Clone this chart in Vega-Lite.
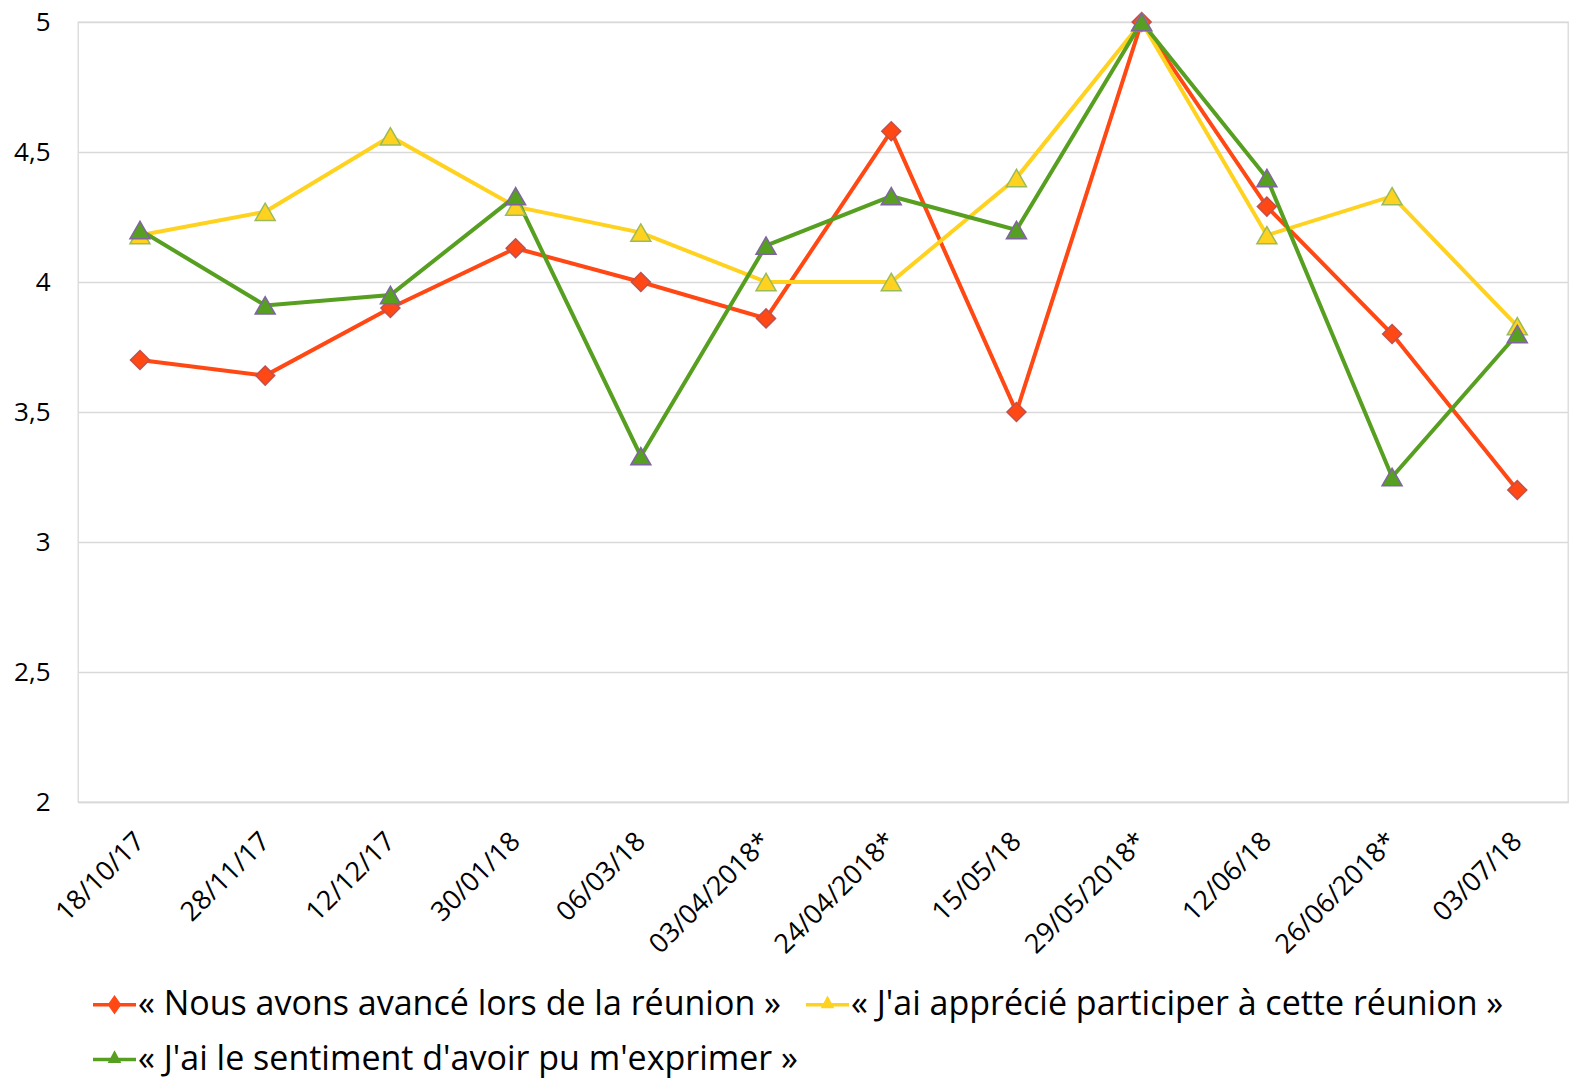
{
  "$schema": "https://vega.github.io/schema/vega-lite/v6.json",
  "width": 1490,
  "height": 780,
  "autosize": {"type": "none"},
  "padding": {"left": 78, "top": 22, "right": 17, "bottom": 277},
  "background": "white",
  "config": {
    "font": "Open Sans",
    "view": {"stroke": "#d9d9d9", "strokeWidth": 1.3},
    "axis": {"labelFont": "Open Sans", "labelColor": "#000000", "labelFontSize": 26, "domain": false, "ticks": false, "gridColor": "#d9d9d9", "gridWidth": 1.3, "title": null}
  },
  "data": {
    "values": [
      {"date": "18/10/17", "series": "« Nous avons avancé lors de la réunion »", "value": 3.7},
      {"date": "28/11/17", "series": "« Nous avons avancé lors de la réunion »", "value": 3.64},
      {"date": "12/12/17", "series": "« Nous avons avancé lors de la réunion »", "value": 3.9},
      {"date": "30/01/18", "series": "« Nous avons avancé lors de la réunion »", "value": 4.13},
      {"date": "06/03/18", "series": "« Nous avons avancé lors de la réunion »", "value": 4.0},
      {"date": "03/04/2018*", "series": "« Nous avons avancé lors de la réunion »", "value": 3.86},
      {"date": "24/04/2018*", "series": "« Nous avons avancé lors de la réunion »", "value": 4.58},
      {"date": "15/05/18", "series": "« Nous avons avancé lors de la réunion »", "value": 3.5},
      {"date": "29/05/2018*", "series": "« Nous avons avancé lors de la réunion »", "value": 5.0},
      {"date": "12/06/18", "series": "« Nous avons avancé lors de la réunion »", "value": 4.29},
      {"date": "26/06/2018*", "series": "« Nous avons avancé lors de la réunion »", "value": 3.8},
      {"date": "03/07/18", "series": "« Nous avons avancé lors de la réunion »", "value": 3.2},
      {"date": "18/10/17", "series": "« J'ai apprécié participer à cette réunion »", "value": 4.18},
      {"date": "28/11/17", "series": "« J'ai apprécié participer à cette réunion »", "value": 4.27},
      {"date": "12/12/17", "series": "« J'ai apprécié participer à cette réunion »", "value": 4.56},
      {"date": "30/01/18", "series": "« J'ai apprécié participer à cette réunion »", "value": 4.29},
      {"date": "06/03/18", "series": "« J'ai apprécié participer à cette réunion »", "value": 4.19},
      {"date": "03/04/2018*", "series": "« J'ai apprécié participer à cette réunion »", "value": 4.0},
      {"date": "24/04/2018*", "series": "« J'ai apprécié participer à cette réunion »", "value": 4.0},
      {"date": "15/05/18", "series": "« J'ai apprécié participer à cette réunion »", "value": 4.4},
      {"date": "29/05/2018*", "series": "« J'ai apprécié participer à cette réunion »", "value": 5.0},
      {"date": "12/06/18", "series": "« J'ai apprécié participer à cette réunion »", "value": 4.18},
      {"date": "26/06/2018*", "series": "« J'ai apprécié participer à cette réunion »", "value": 4.33},
      {"date": "03/07/18", "series": "« J'ai apprécié participer à cette réunion »", "value": 3.83},
      {"date": "18/10/17", "series": "« J'ai le sentiment d'avoir pu m'exprimer »", "value": 4.2},
      {"date": "28/11/17", "series": "« J'ai le sentiment d'avoir pu m'exprimer »", "value": 3.91},
      {"date": "12/12/17", "series": "« J'ai le sentiment d'avoir pu m'exprimer »", "value": 3.95},
      {"date": "30/01/18", "series": "« J'ai le sentiment d'avoir pu m'exprimer »", "value": 4.33},
      {"date": "06/03/18", "series": "« J'ai le sentiment d'avoir pu m'exprimer »", "value": 3.33},
      {"date": "03/04/2018*", "series": "« J'ai le sentiment d'avoir pu m'exprimer »", "value": 4.14},
      {"date": "24/04/2018*", "series": "« J'ai le sentiment d'avoir pu m'exprimer »", "value": 4.33},
      {"date": "15/05/18", "series": "« J'ai le sentiment d'avoir pu m'exprimer »", "value": 4.2},
      {"date": "29/05/2018*", "series": "« J'ai le sentiment d'avoir pu m'exprimer »", "value": 5.0},
      {"date": "12/06/18", "series": "« J'ai le sentiment d'avoir pu m'exprimer »", "value": 4.4},
      {"date": "26/06/2018*", "series": "« J'ai le sentiment d'avoir pu m'exprimer »", "value": 3.25},
      {"date": "03/07/18", "series": "« J'ai le sentiment d'avoir pu m'exprimer »", "value": 3.8}
    ]
  },
  "encoding": {
    "x": {
      "field": "date", "type": "nominal", "sort": null,
      "scale": {"type": "point", "padding": 0.45, "align": 0.55},
      "axis": {"labelAngle": -45, "labelAlign": "right", "labelBaseline": "middle", "labelPadding": 35, "labelFontSize": 27, "grid": false, "domain": true, "domainColor": "#d9d9d9", "domainWidth": 1.3}
    },
    "y": {
      "field": "value", "type": "quantitative",
      "scale": {"domain": [2, 5], "nice": false, "zero": false},
      "axis": {"values": [2, 2.5, 3, 3.5, 4, 4.5, 5], "labelExpr": "replace(format(datum.value, '~g'), '.', ',')", "labelPadding": 28, "grid": true}
    }
  },
  "layer": [
    {
      "mark": {"type": "line", "strokeWidth": 4},
      "encoding": {
        "color": {
          "field": "series", "type": "nominal", "sort": null,
          "scale": {"domain": ["« Nous avons avancé lors de la réunion »", "« J'ai apprécié participer à cette réunion »", "« J'ai le sentiment d'avoir pu m'exprimer »"], "range": ["#ff4813", "#ffd21f", "#579f20"]},
          "legend": {
            "orient": "none", "legendX": 13, "legendY": 959, "direction": "horizontal", "columns": 2,
            "title": null, "labelFont": "Open Sans", "labelFontSize": 34, "labelColor": "#000000", "labelLimit": 0,
            "symbolSize": 1849, "symbolStrokeWidth": 3.5, "labelOffset": 0, "columnPadding": 1, "rowPadding": 14,
            "encode": {
              "symbols": {
                "update": {
                  "shape": {"signal": "indexof(datum.value, 'Nous') >= 0 ? 'M-1,0H1M0,-0.31L0.22,0L0,0.31L-0.22,0Z' : 'M-1,0H1M0,-0.26L0.18,0.08L-0.18,0.08Z'"},
                  "fill": {"scale": "color", "field": "value"},
                  "stroke": {"scale": "color", "field": "value"},
                  "strokeWidth": {"value": 3.5},
                  "opacity": {"value": 1}
                }
              }
            }
          }
        }
      }
    },
    {
      "transform": [{"filter": "datum.series === '« Nous avons avancé lors de la réunion »'"}],
      "mark": {"type": "point", "filled": true, "opacity": 1, "shape": "diamond", "size": 360, "fill": "#ff4813", "stroke": "#c0504d", "strokeWidth": 1.5}
    },
    {
      "transform": [{"filter": "datum.series === '« J\\'ai apprécié participer à cette réunion »'"}],
      "mark": {"type": "point", "filled": true, "opacity": 1, "shape": "triangle-up", "size": 400, "fill": "#ffd21f", "stroke": "#9bbb59", "strokeWidth": 1.5}
    },
    {
      "transform": [{"filter": "datum.series === '« J\\'ai le sentiment d\\'avoir pu m\\'exprimer »'"}],
      "mark": {"type": "point", "filled": true, "opacity": 1, "shape": "triangle-up", "size": 400, "fill": "#579f20", "stroke": "#8064a2", "strokeWidth": 1.5}
    }
  ]
}
